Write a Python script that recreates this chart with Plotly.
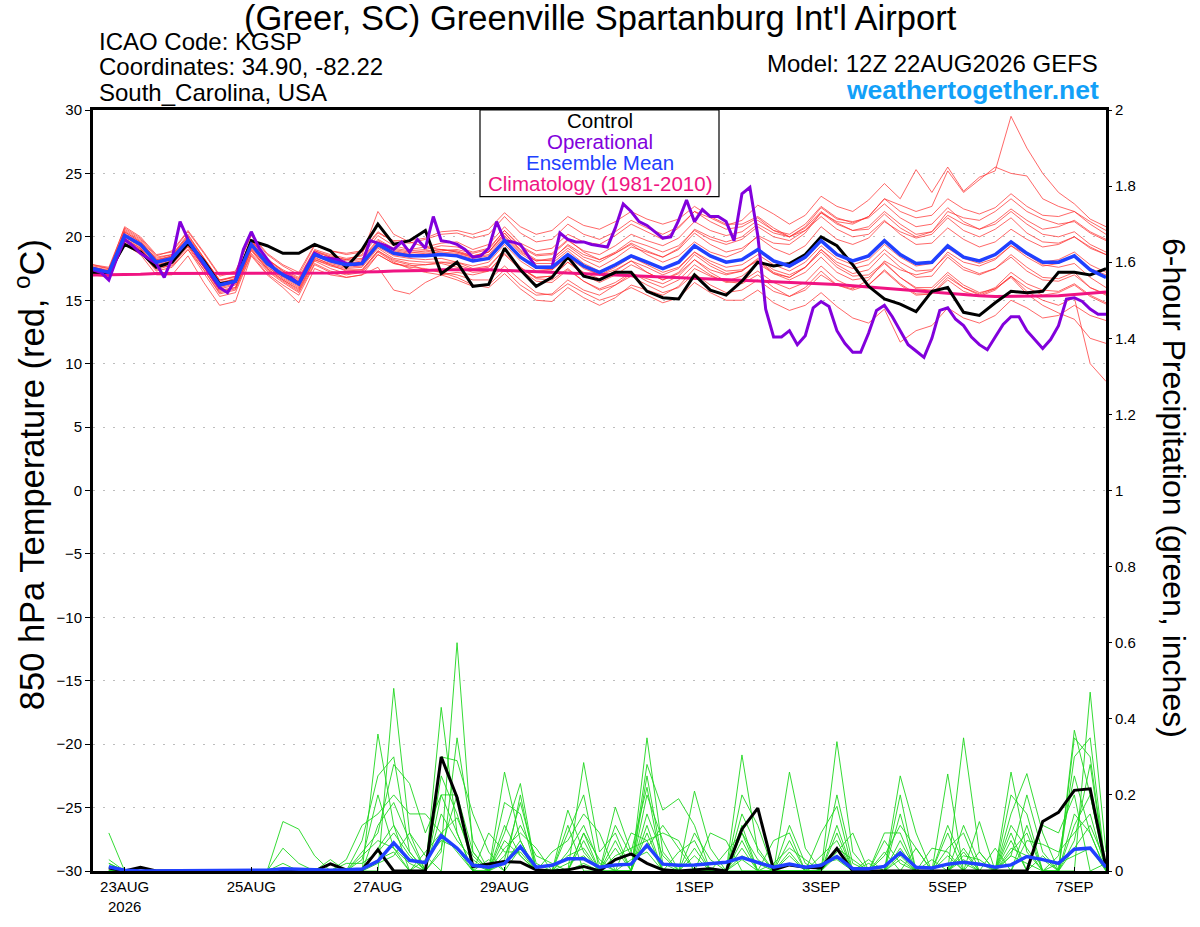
import pandas as pd
import plotly.graph_objects as go

# ---------------- data ----------------
run_start = "2026-08-22 12:00"

# ensemble mean 850 hPa temperature (6-hourly, 65 values)
mean_t = [17.5,17.2,20.1,19.4,18.0,18.3,19.7,18.0,16.2,16.5,
          19.4,17.9,17.0,16.3,18.6,18.1,17.8,17.9,19.4,18.7,
          18.5,18.5,18.6,18.5,18.1,18.3,19.7,18.4,17.6,17.6,
          18.6,17.7,17.2,17.8,18.5,18.0,17.5,18.0,19.3,18.5,
          18.0,18.2,19.0,18.1,17.7,18.4,19.7,18.6,18.1,18.5,
          19.7,18.6,17.9,18.0,19.3,18.4,18.1,18.6,19.6,18.7,
          18.0,18.0,18.5,17.4,16.8]

# control member temperature
ctrl_t = [17.2,17.2,19.4,18.8,17.6,18.0,19.5,18.1,16.3,16.5,
          19.7,19.3,18.7,18.7,19.4,18.9,17.6,19.0,21.0,19.4,
          19.7,20.5,17.1,18.0,16.1,16.25,19.1,17.4,16.1,16.8,
          18.4,16.9,16.6,17.2,17.2,15.7,15.2,15.1,17.0,15.8,
          15.4,16.5,18.0,17.7,17.9,18.6,20.0,19.3,17.8,16.1,
          15.1,14.7,14.1,15.7,16.0,14.05,13.8,14.8,15.7,15.6,
          15.7,17.2,17.2,17.0,17.5]

# climatology (1981-2010)
clim_t = [17.0,17.0,17.05,17.05,17.1,17.1,17.1,17.1,17.1,17.1,
          17.1,17.1,17.1,17.1,17.15,17.15,17.2,17.2,17.25,17.3,
          17.3,17.35,17.4,17.4,17.45,17.4,17.35,17.3,17.25,17.2,
          17.1,17.05,17.0,16.95,16.9,16.85,16.8,16.75,16.7,16.65,
          16.6,16.55,16.5,16.45,16.4,16.35,16.3,16.25,16.15,16.05,
          15.95,15.8,15.7,15.6,15.5,15.4,15.35,15.3,15.3,15.3,
          15.3,15.35,15.45,15.55,15.65]

# operational run temperature (3-hourly, 129 values)
oper_t = [17.4,17.2,16.6,18.3,19.8,19.3,18.7,18.3,17.9,16.8,
          18.3,21.2,19.8,18.7,17.8,16.8,16.0,15.6,16.6,19.0,
          20.4,19.1,18.2,17.4,17.0,16.8,16.3,17.6,18.7,18.4,
          18.3,18.2,17.9,17.8,17.9,19.7,19.5,19.3,19.0,19.6,
          18.8,19.8,19.1,21.6,19.7,19.6,19.4,19.0,18.4,18.5,
          19.1,21.2,19.7,19.6,19.4,18.5,17.6,17.6,17.6,20.3,
          19.8,19.6,19.6,19.4,19.3,19.2,20.7,22.6,22.0,21.2,
          20.9,20.4,19.9,20.0,21.3,22.9,21.2,22.15,21.6,21.6,
          21.2,19.7,23.4,23.9,20.1,14.3,12.1,12.1,12.6,11.5,
          12.2,14.4,14.9,14.5,12.6,11.6,10.9,10.9,12.4,14.2,
          14.6,13.7,12.6,11.5,11.0,10.5,12.0,14.2,14.4,13.5,
          13.0,12.1,11.5,11.1,12.1,13.1,13.7,13.7,12.6,11.9,
          11.2,11.9,13.0,15.1,15.2,14.9,14.3,13.9,13.9]

# ensemble members temperature
member_t = [
 [17.3,17.0,20.6,19.8,18.4,18.6,20.2,18.3,16.5,16.9, 19.8,18.2,17.4,16.8,19.0,18.6,18.3,18.5,20.1,19.3,
  19.0,19.2,19.5,19.6,19.0,19.4,20.8,19.5,18.9,19.1, 20.2,19.6,19.4,20.1,21.0,20.4,19.8,20.7,22.0,21.5,
  20.9,21.3,22.5,21.8,21.0,21.7,23.2,22.4,22.0,22.9, 24.2,23.0,25.3,23.5,25.5,23.6,24.7,25.2,29.5,27.0,
  25.0,23.5,22.6,21.4,20.8],
 [17.8,17.5,19.8,19.0,17.6,18.0,19.3,17.6,15.8,16.0, 19.0,17.5,16.6,15.8,18.2,17.8,17.3,17.4,18.9,18.2,
  17.9,17.8,17.9,17.6,17.2,17.3,18.6,17.4,16.5,16.4, 17.4,16.5,15.9,16.4,17.2,16.5,16.0,16.6,17.8,17.0,
  16.4,16.5,17.3,16.4,15.9,16.4,17.7,16.6,16.0,16.2, 17.3,16.2,15.4,15.5,16.8,16.0,15.4,15.9,16.9,15.7,
  15.0,14.6,15.2,10.0,8.6],
 [17.0,16.8,19.6,19.0,17.6,17.7,19.0,17.4,15.5,15.8, 18.7,17.3,16.4,15.6,17.9,17.3,17.0,17.2,18.6,17.9,
  17.6,17.5,17.2,17.0,16.6,16.6,17.7,16.6,15.6,15.4, 16.3,15.6,15.0,15.4,16.0,15.4,14.8,15.2,16.4,15.6,
  15.0,15.0,15.8,14.8,14.2,14.6,15.6,14.5,13.6,13.2, 14.3,11.7,12.6,13.0,14.4,13.6,13.2,13.8,15.0,14.4,
  13.6,13.8,14.6,13.8,13.4],
 [17.6,17.4,20.8,20.0,18.6,18.8,20.4,18.7,16.9,17.2, 20.2,18.7,17.8,17.2,19.4,18.9,18.7,18.9,20.4,19.6,
  19.5,19.8,20.2,20.3,19.9,20.2,21.6,20.3,19.6,19.8, 21.0,20.2,19.8,20.4,21.3,20.7,20.2,20.8,22.0,21.2,
  20.6,20.8,21.5,20.5,20.0,20.7,22.0,21.1,20.5,20.8, 22.0,21.0,20.2,20.4,21.7,21.0,20.6,21.2,22.2,21.3,
  20.6,20.8,21.3,20.4,19.8],
 [17.4,17.0,19.9,19.1,17.7,18.1,19.5,17.7,15.9,16.2, 19.1,17.7,16.7,16.0,18.4,17.8,17.5,17.6,19.1,18.3,
  18.1,18.0,18.0,17.8,17.4,17.6,19.0,17.6,16.8,16.9, 18.0,17.0,16.4,17.0,17.8,17.2,16.6,17.2,18.6,17.7,
  17.1,17.3,18.2,17.2,16.8,17.6,19.0,17.8,17.1,17.4, 18.7,17.6,16.8,16.9,18.4,17.4,17.0,17.5,18.6,17.6,
  16.8,16.7,17.2,16.0,15.4],
 [17.7,17.5,20.4,19.6,18.3,18.6,20.0,18.3,16.6,16.9, 19.7,18.2,17.3,16.7,18.9,18.5,18.2,18.3,19.8,19.1,
  18.9,19.0,19.3,19.2,18.8,19.1,20.5,19.2,18.5,18.6, 19.7,18.9,18.6,19.3,20.2,19.7,19.3,19.9,21.2,20.5,
  20.1,20.4,21.3,20.5,20.2,21.0,22.4,21.5,21.1,21.6, 23.0,22.0,21.5,21.7,23.0,22.2,21.8,22.3,23.4,22.4,
  21.7,21.6,22.0,21.2,20.5],
 [17.2,16.9,19.7,18.9,17.4,17.8,19.2,17.4,15.6,15.9, 18.9,17.4,16.5,15.7,18.1,17.5,17.1,17.3,18.8,18.0,
  17.5,17.2,17.0,16.6,16.1,16.2,17.4,16.2,15.4,15.5, 16.6,15.8,15.4,16.2,17.1,16.7,16.3,16.9,18.2,17.4,
  17.0,17.3,18.3,17.4,17.0,17.6,18.8,17.6,16.9,17.0, 18.0,16.8,15.9,15.8,17.0,16.0,15.5,16.0,17.2,16.3,
  15.8,15.7,16.3,15.4,14.8],
 [17.5,17.3,20.3,19.5,18.1,18.5,19.9,18.1,16.3,16.7, 19.6,18.1,17.2,16.5,18.8,18.4,18.2,18.6,22.0,20.2,
  19.6,19.2,19.0,18.8,18.4,18.8,20.3,18.9,18.1,18.3, 19.3,18.4,18.0,18.7,19.5,18.9,18.4,19.0,20.3,19.4,
  18.8,19.1,20.0,19.1,18.6,19.3,20.8,19.8,19.4,19.9, 21.2,20.4,19.9,20.2,21.5,20.5,20.0,20.6,21.5,20.3,
  19.6,19.5,20.0,19.1,18.6],
 [17.3,17.0,19.5,18.8,17.3,17.6,19.0,17.2,15.3,15.6, 18.6,17.1,16.2,15.4,17.8,17.2,16.8,17.0,17.6,15.8,
  15.5,16.4,17.0,17.2,17.0,17.3,18.7,17.5,16.8,16.9, 18.0,17.2,16.7,17.3,18.1,17.6,17.0,17.5,18.8,18.1,
  17.6,17.8,18.6,17.8,17.3,18.0,19.3,18.3,17.8,18.2, 19.4,18.4,17.7,17.9,19.1,18.3,17.9,18.3,19.3,18.4,
  17.7,17.9,18.5,17.5,17.0],
 [17.6,17.3,20.0,19.3,17.9,18.2,19.6,17.9,16.1,16.4, 19.3,17.8,16.9,16.2,18.5,18.0,17.7,17.9,19.3,18.6,
  18.4,18.6,18.9,19.0,18.7,19.0,20.5,19.3,18.6,18.7, 19.8,18.8,18.2,18.7,19.4,18.6,18.0,18.5,19.6,18.8,
  18.4,18.9,20.1,19.5,19.4,20.3,21.9,21.0,20.5,20.6, 21.8,20.7,20.0,20.4,22.0,21.5,21.3,22.0,23.0,22.0,
  21.4,21.0,21.2,20.3,19.7],
 [17.5,17.1,20.0,19.2,17.8,18.1,19.5,17.8,16.0,16.3, 19.2,17.6,16.8,16.1,18.3,17.9,17.6,17.7,19.2,18.5,
  18.3,18.2,18.3,18.0,17.5,17.7,19.0,17.6,16.7,16.6, 17.5,16.5,15.8,16.2,16.9,16.2,15.6,16.0,17.1,16.2,
  15.6,15.8,16.6,15.7,15.3,16.0,17.3,16.2,15.8,16.2, 17.4,16.3,15.5,15.5,16.6,15.7,15.3,15.8,16.9,16.0,
  15.4,15.6,16.2,15.3,14.7],
 [17.4,17.2,20.5,19.7,18.2,18.4,19.9,18.2,16.4,16.7, 19.6,18.0,17.1,16.4,18.7,18.2,17.9,18.1,19.6,18.9,
  18.7,18.9,19.0,18.8,18.5,18.8,20.1,18.8,18.1,18.2, 19.4,18.6,18.2,18.8,19.7,19.3,18.8,19.3,20.5,19.8,
  19.4,19.8,20.8,20.0,19.7,20.5,21.9,21.2,21.0,21.6, 23.0,22.5,22.0,22.4,25.2,23.5,24.5,25.5,25.0,24.8,
  23.0,22.4,22.0,21.0,20.2],
 [17.1,16.9,20.2,19.4,18.0,18.2,19.6,17.9,16.1,16.4, 19.5,17.9,16.9,16.3,18.7,18.2,17.8,17.8,19.5,18.8,
  18.6,18.5,18.7,18.6,18.3,18.5,19.8,18.4,17.5,17.4, 18.5,17.6,17.0,17.4,18.1,17.2,16.6,17.1,18.2,17.2,
  16.5,16.3,17.0,16.0,15.3,15.8,17.0,16.2,15.9,16.6, 18.1,17.4,17.0,17.3,18.8,18.0,17.7,18.2,19.3,18.6,
  18.0,18.2,18.8,17.8,17.2],
 [17.8,17.6,20.7,19.9,18.5,18.9,20.5,18.8,17.0,17.3, 20.1,18.6,17.7,17.0,19.3,18.9,18.6,18.8,20.3,19.7,
  19.7,19.9,20.4,20.5,20.2,20.6,21.9,20.8,20.2,20.5, 21.6,20.9,20.6,21.2,22.0,21.4,21.0,21.4,22.4,21.6,
  21.0,21.0,21.6,20.7,20.0,20.5,21.6,20.6,20.0,20.2, 21.3,20.2,19.4,19.5,20.7,19.8,19.2,19.6,20.6,19.8,
  19.2,19.4,20.0,19.2,18.6],
 [17.3,17.1,19.8,19.1,17.6,17.9,19.3,17.6,15.7,16.0, 19.0,17.5,16.6,15.9,18.2,17.7,17.4,17.4,18.9,18.1,
  17.8,17.4,17.2,16.8,16.2,16.0,17.1,15.9,15.0,14.9, 16.0,15.2,14.6,15.2,16.2,15.8,15.4,16.1,17.5,16.9,
  16.5,16.9,17.9,17.1,16.8,17.6,19.0,18.0,17.5,17.8, 19.0,18.0,17.3,17.4,18.6,17.6,17.1,17.5,18.4,17.3,
  16.6,16.5,17.0,16.0,15.5],
 [17.6,17.3,20.1,19.3,17.9,18.3,19.7,18.0,16.2,16.6, 19.4,17.9,17.0,16.3,18.6,18.2,17.9,18.0,19.5,18.8,
  18.6,18.7,18.8,18.7,18.4,18.6,20.0,18.7,17.9,17.9, 18.9,17.9,17.3,17.8,18.4,17.8,17.2,17.6,18.8,17.9,
  17.3,17.4,18.1,17.1,16.6,17.2,18.4,17.2,16.6,16.8, 17.9,16.8,16.0,16.0,17.2,16.2,15.6,15.9,16.8,15.5,
  14.6,14.0,13.5,12.0,11.6],
 [17.4,17.2,20.4,19.6,18.2,18.5,20.1,18.4,16.6,16.8, 19.7,18.3,17.3,16.6,18.9,18.4,18.1,18.2,19.7,19.0,
  18.8,18.8,19.0,18.9,18.5,18.8,20.3,19.0,18.2,18.1, 19.1,18.2,17.6,18.3,19.2,18.8,18.4,19.1,20.6,20.0,
  19.6,20.0,21.0,20.3,20.0,20.8,22.3,21.4,21.2,21.5, 22.6,21.5,20.8,21.0,22.3,21.2,20.6,21.0,22.0,21.0,
  20.2,20.0,20.4,19.4,18.8],
 [17.2,16.8,19.4,18.6,17.0,17.0,18.5,16.4,14.6,14.9, 18.5,17.0,16.0,14.8,17.5,17.0,16.8,17.0,18.6,17.9,
  17.7,17.8,18.0,18.0,17.7,18.0,19.4,18.1,17.3,17.4, 18.4,17.5,17.0,17.6,18.4,17.9,17.5,18.0,19.3,18.5,
  18.0,18.2,18.9,18.0,17.6,18.3,19.7,18.6,18.1,18.5, 19.7,18.6,17.9,18.0,19.3,18.4,18.1,18.6,19.6,18.6,
  17.8,17.6,17.9,16.8,16.0],
]

# 6-hour precipitation (inches), steps 1..64 (first accumulation ends 22AUG 18Z)
ctrl_p = [0.008,0,0.01,0,0,0,0,0,0,0,
          0,0,0,0,0.019,0.003,0.003,0.056,0,0,
          0,0.30,0.193,0.012,0.018,0.025,0.023,0.003,0,0.003,
          0.012,0,0.03,0.045,0.02,0.003,0,0.003,0.006,0,
          0.11,0.165,0.003,0.016,0.01,0.008,0.059,0,0,0,
          0,0,0,0,0,0,0,0,0,0.13,
          0.154,0.212,0.216,0.01]
mean_p = [0.011,0.002,0,0,0,0,0,0,0,0,
          0.002,0.006,0.004,0.002,0.002,0.003,0.005,0.026,0.074,0.028,
          0.022,0.093,0.06,0.015,0.01,0.02,0.064,0.01,0.015,0.032,
          0.032,0.01,0.016,0.018,0.068,0.018,0.015,0.016,0.02,0.023,
          0.035,0.023,0.01,0.018,0.01,0.015,0.038,0.006,0.006,0.012,
          0.048,0.01,0.008,0.018,0.023,0.018,0.01,0.016,0.038,0.03,
          0.02,0.057,0.06,0.01]
# members: {step: inches}, steps not listed are 0
member_p = [
 {1:.1,18:.36,19:.12,22:.05,23:.6,24:.05,26:.1,27:.23,31:.1,35:.35,36:.05,41:.1,47:.12,51:.2,55:.06,58:.26,59:.05,62:.37,63:.2},
 {1:.03,12:.13,13:.11,14:.04,19:.48,20:.1,22:.43,23:.1,26:.26,27:.08,30:.16,31:.05,35:.1,38:.21,39:.06,44:.26,45:.06,51:.25,52:.1,55:.35,56:.05,59:.12,63:.47,64:.05},
 {1:.02,12:.06,13:.02,17:.08,18:.25,19:.3,20:.05,22:.3,23:.29,24:.15,25:.05,27:.2,31:.285,32:.05,33:.1,35:.28,36:.16,37:.19,38:.12,41:.305,42:.05,47:.34,48:.05,54:.1,58:.15,59:.256,60:.1,62:.35,63:.3},
 {17:.05,18:.1,19:.28,20:.23,21:.1,22:.2,23:.2,26:.18,27:.15,30:.12,33:.168,34:.05,35:.22,41:.2,42:.12,46:.1,47:.17,50:.1,51:.1,54:.255,56:.13,58:.1,60:.12,61:.1,62:.2,64:.02},
 {1:.01,16:.03,17:.12,18:.15,19:.2,20:.15,21:.15,22:.1,23:.05,25:.1,26:.05,27:.05,29:.05,30:.08,31:.15,32:.1,34:.1,35:.08,39:.1,40:.08,43:.08,44:.1,47:.05,48:.1,50:.05,52:.06,55:.05,57:.06,59:.08,60:.07,61:.05,62:.1,63:.15},
 {15:.03,18:.06,19:.12,20:.05,22:.15,23:.08,24:.03,26:.06,27:.1,28:.06,30:.04,31:.06,33:.04,34:.06,35:.08,36:.1,37:.08,40:.05,41:.1,42:.03,46:.04,47:.08,49:.03,51:.06,53:.06,54:.05,56:.05,58:.08,60:.04,62:.12,63:.2,64:.01},
 {12:.02,17:.04,18:.08,19:.06,21:.05,22:.1,23:.14,24:.04,26:.04,27:.12,28:.04,29:.02,31:.1,32:.03,35:.15,36:.04,38:.06,41:.12,43:.02,44:.06,45:.03,47:.1,50:.04,51:.12,52:.06,55:.03,58:.12,59:.06,61:.04,62:.25,63:.1},
 {1:.02,18:.12,19:.18,20:.08,22:.2,23:.1,25:.03,27:.06,30:.1,31:.2,33:.08,35:.12,37:.05,38:.08,41:.06,44:.05,47:.06,48:.03,51:.08,54:.06,55:.1,58:.05,59:.1,62:.08,63:.28},
 {16:.02,17:.02,18:.05,19:.1,20:.04,22:.06,23:.2,24:.05,26:.02,27:.08,30:.02,31:.04,33:.06,35:.2,36:.08,41:.15,42:.06,44:.04,47:.04,49:.02,51:.04,53:.03,55:.04,56:.03,58:.06,59:.04,60:.03,62:.06,63:.12,64:.02},
 {18:.03,19:.05,21:.03,22:.08,23:.06,26:.08,27:.04,31:.08,34:.03,35:.05,38:.04,41:.04,42:.02,46:.02,47:.03,51:.03,54:.04,58:.04,59:.02,61:.02,62:.04,63:.06},
 {1:.01,17:.03,18:.2,19:.06,20:.02,22:.25,23:.15,24:.02,26:.12,27:.04,30:.05,31:.12,32:.02,35:.25,36:.02,38:.1,39:.03,41:.08,44:.08,47:.2,48:.02,51:.15,54:.12,55:.02,58:.2,59:.15,62:.3,63:.35},
 {18:.02,19:.04,20:.1,21:.04,23:.35,24:.08,26:.03,27:.18,28:.02,31:.02,33:.12,34:.04,35:.06,36:.12,37:.06,41:.03,44:.12,45:.02,47:.06,50:.08,51:.02,55:.12,56:.02,58:.04,59:.2,60:.05,62:.15,63:.1},
]

tick_dates = ["2026-08-23", "2026-08-25", "2026-08-27", "2026-08-29",
              "2026-09-01", "2026-09-03", "2026-09-05", "2026-09-07"]
tick_labels = ["23AUG<br>2026", "25AUG", "27AUG", "29AUG",
               "1SEP", "3SEP", "5SEP", "7SEP"]

# ---------------- figure ----------------
t6 = pd.date_range(run_start, periods=len(mean_t), freq="6h")
t3 = pd.date_range(run_start, periods=len(oper_t), freq="3h")
tp = t6[1:]

FONT = "Liberation Sans, Arial, Helvetica, sans-serif"
RED = "rgba(255,45,45,0.8)"
GREEN = "rgb(30,215,30)"
PURPLE = "#8200dc"
BLUE = "#2040ff"
PINK = "#f01482"

fig = go.Figure()

for m in member_t:
    fig.add_trace(go.Scatter(x=t6, y=m, mode="lines", line=dict(color=RED, width=0.9),
                             hoverinfo="skip"))
for m in member_p:
    vals = [m.get(k, 0) for k in range(1, len(tp) + 1)]
    fig.add_trace(go.Scatter(x=tp, y=vals, mode="lines", line=dict(color=GREEN, width=0.9),
                             yaxis="y2", hoverinfo="skip"))

fig.add_trace(go.Scatter(x=t6, y=clim_t, mode="lines", line=dict(color=PINK, width=3)))
fig.add_trace(go.Scatter(x=t6, y=ctrl_t, mode="lines", line=dict(color="black", width=3)))
fig.add_trace(go.Scatter(x=t3, y=oper_t, mode="lines", line=dict(color=PURPLE, width=3)))
fig.add_trace(go.Scatter(x=t6, y=mean_t, mode="lines", line=dict(color=BLUE, width=3.5)))

fig.add_trace(go.Scatter(x=tp, y=ctrl_p, mode="lines", line=dict(color="black", width=3), yaxis="y2"))
fig.add_trace(go.Scatter(x=tp, y=mean_p, mode="lines", line=dict(color=BLUE, width=3.5), yaxis="y2"))

L, R, T, B = 93, 94, 110, 44
W, H = 1200, 927
pw, ph = W - L - R, H - T - B


def px(x):
    return (x - L) / pw


def py(y):
    return (H - B - y) / ph


fig.update_layout(
    width=W, height=H,
    margin=dict(l=L, r=R, t=T, b=B),
    paper_bgcolor="white", plot_bgcolor="white",
    showlegend=False,
    font=dict(family=FONT, color="black", size=15),
    xaxis=dict(
        range=["2026-08-22 12:00", "2026-09-07 12:00"],
        tickvals=tick_dates, ticktext=tick_labels,
        ticks="inside", ticklen=4, tickcolor="black",
        showline=True, linewidth=3, linecolor="black", mirror=True,
        showgrid=False, zeroline=False,
        tickfont=dict(size=15),
    ),
    yaxis=dict(
        range=[-30, 30], dtick=5,
        ticks="outside", ticklen=5, tickcolor="black",
        showline=True, linewidth=3, linecolor="black", mirror=True,
        showgrid=True, gridcolor="#bdbdbd", gridwidth=1, griddash="2px,8px",
        zeroline=False,
        tickfont=dict(size=15),
    ),
    yaxis2=dict(
        range=[0, 2], dtick=0.2, overlaying="y", side="right",
        ticks="outside", ticklen=5, tickcolor="black",
        showline=False, showgrid=False, zeroline=False,
        tickfont=dict(size=15),
    ),
)

shapes = [dict(type="rect", xref="paper", yref="paper",
               x0=px(480), x1=px(719), y0=py(198), y1=py(110),
               fillcolor="white", line=dict(color="black", width=1.2), layer="above")]
fig.update_layout(shapes=shapes)

ann = []


def add(text, x, y, xa="center", size=24, color="black", angle=0, bold=False):
    if bold:
        text = "<b>" + text + "</b>"
    ann.append(dict(text=text, x=px(x), y=py(y), xref="paper", yref="paper",
                    xanchor=xa, yanchor="middle", showarrow=False, textangle=angle,
                    font=dict(size=size, color=color, family=FONT)))


add("(Greer, SC) Greenville Spartanburg Int'l Airport", 600, 17, size=34.5)
add("ICAO Code: KGSP", 97, 40, xa="left", size=24)
add("Coordinates: 34.90, -82.22", 97, 66, xa="left", size=24)
add("South_Carolina, USA", 97, 92, xa="left", size=24)
add("Model: 12Z 22AUG2026 GEFS", 1100, 63, xa="right", size=24)
add("weathertogether.net", 1101, 90, xa="right", size=26.5, color="#12a0f8", bold=True)

add("Control", 600, 121, size=20.5)
add("Operational", 600, 142, size=20.5, color=PURPLE)
add("Ensemble Mean", 600, 163, size=20.5, color=BLUE)
add("Climatology (1981-2010)", 600, 185, size=20.5, color=PINK)

add("850 hPa Temperature (red, <sup>o</sup>C)", 29, 481, size=34.5, angle=-90)
add("6-hour Precipitation (green, inches)", 1174, 494, size=32, angle=90)

fig.update_layout(annotations=ann)

fig.write_html(
    "out.html",
    post_script="document.body.style.margin='0';document.body.style.overflow='hidden';",
    config={"displayModeBar": False},
)
